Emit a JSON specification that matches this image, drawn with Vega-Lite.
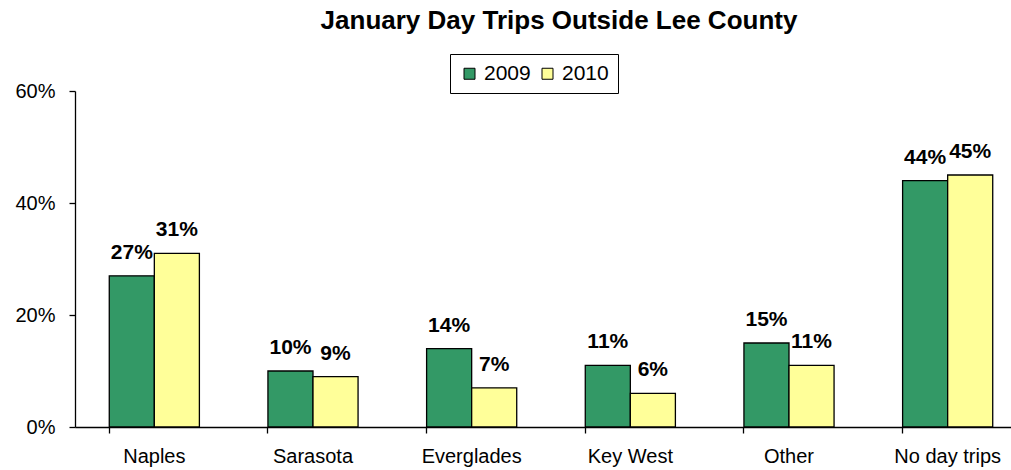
{
  "$schema": "https://vega.github.io/schema/vega-lite/v6.json",
  "width": 936,
  "height": 336,
  "autosize": "none",
  "padding": {"left": 75, "top": 91, "right": 0, "bottom": 43},
  "background": "white",
  "config": {
    "font": "Liberation Sans",
    "view": {"stroke": null},
    "axis": {"domainColor": "black", "tickColor": "black", "labelColor": "black", "grid": false, "labelFont": "Liberation Sans"}
  },
  "title": {
    "text": "January Day Trips Outside Lee County",
    "font": "Liberation Sans",
    "fontSize": 26,
    "fontWeight": "bold",
    "color": "black",
    "anchor": "middle",
    "dx": 16,
    "offset": 20
  },
  "data": {
    "values": [
      {"destination": "Naples", "year": "2009", "value": 0.27},
      {"destination": "Naples", "year": "2010", "value": 0.31},
      {"destination": "Sarasota", "year": "2009", "value": 0.10},
      {"destination": "Sarasota", "year": "2010", "value": 0.09},
      {"destination": "Everglades", "year": "2009", "value": 0.14},
      {"destination": "Everglades", "year": "2010", "value": 0.07},
      {"destination": "Key West", "year": "2009", "value": 0.11},
      {"destination": "Key West", "year": "2010", "value": 0.06},
      {"destination": "Other", "year": "2009", "value": 0.15},
      {"destination": "Other", "year": "2010", "value": 0.11},
      {"destination": "No day trips", "year": "2009", "value": 0.44},
      {"destination": "No day trips", "year": "2010", "value": 0.45}
    ]
  },
  "encoding": {
    "x": {
      "field": "destination",
      "type": "nominal",
      "sort": null,
      "scale": {"paddingInner": 0.432, "paddingOuter": 0.216, "range": [0, 952]},
      "axis": {
        "title": null,
        "labelAngle": 0,
        "labelFontSize": 20,
        "tickSize": 6,
        "labelPadding": 13,
        "bandPosition": 0,
        "domainWidth": 1.3,
        "tickWidth": 1.3
      }
    },
    "xOffset": {"field": "year", "type": "nominal", "scale": {"paddingInner": 0, "paddingOuter": 0}},
    "y": {
      "field": "value",
      "type": "quantitative",
      "scale": {"domain": [0, 0.6], "nice": false},
      "axis": {
        "title": null,
        "values": [0, 0.2, 0.4, 0.6],
        "format": ".0%",
        "labelFontSize": 20,
        "tickSize": 6,
        "labelPadding": 14,
        "domainWidth": 1.3,
        "tickWidth": 1.3
      }
    }
  },
  "layer": [
    {
      "mark": {"type": "bar", "stroke": "black", "strokeWidth": 1.3},
      "encoding": {
        "color": {
          "field": "year",
          "type": "nominal",
          "scale": {"domain": ["2009", "2010"], "range": ["#339966", "#FFFF99"]},
          "legend": {
            "title": null,
            "orient": "none",
            "legendX": 375,
            "legendY": -37,
            "direction": "horizontal",
            "symbolType": "square",
            "symbolSize": 121,
            "symbolStrokeColor": "black",
            "symbolStrokeWidth": 1,
            "symbolOpacity": 1,
            "labelFontSize": 21,
            "labelColor": "black",
            "labelFont": "Liberation Sans",
            "labelOffset": 4,
            "columnPadding": 6,
            "padding": 9,
            "strokeColor": "black",
            "fillColor": "white"
          }
        }
      }
    },
    {
      "mark": {"type": "text", "dy": -17, "baseline": "alphabetic", "fontWeight": "bold", "fontSize": 21, "color": "black", "font": "Liberation Sans"},
      "encoding": {
        "text": {"field": "value", "type": "quantitative", "format": ".0%"}
      }
    }
  ]
}
